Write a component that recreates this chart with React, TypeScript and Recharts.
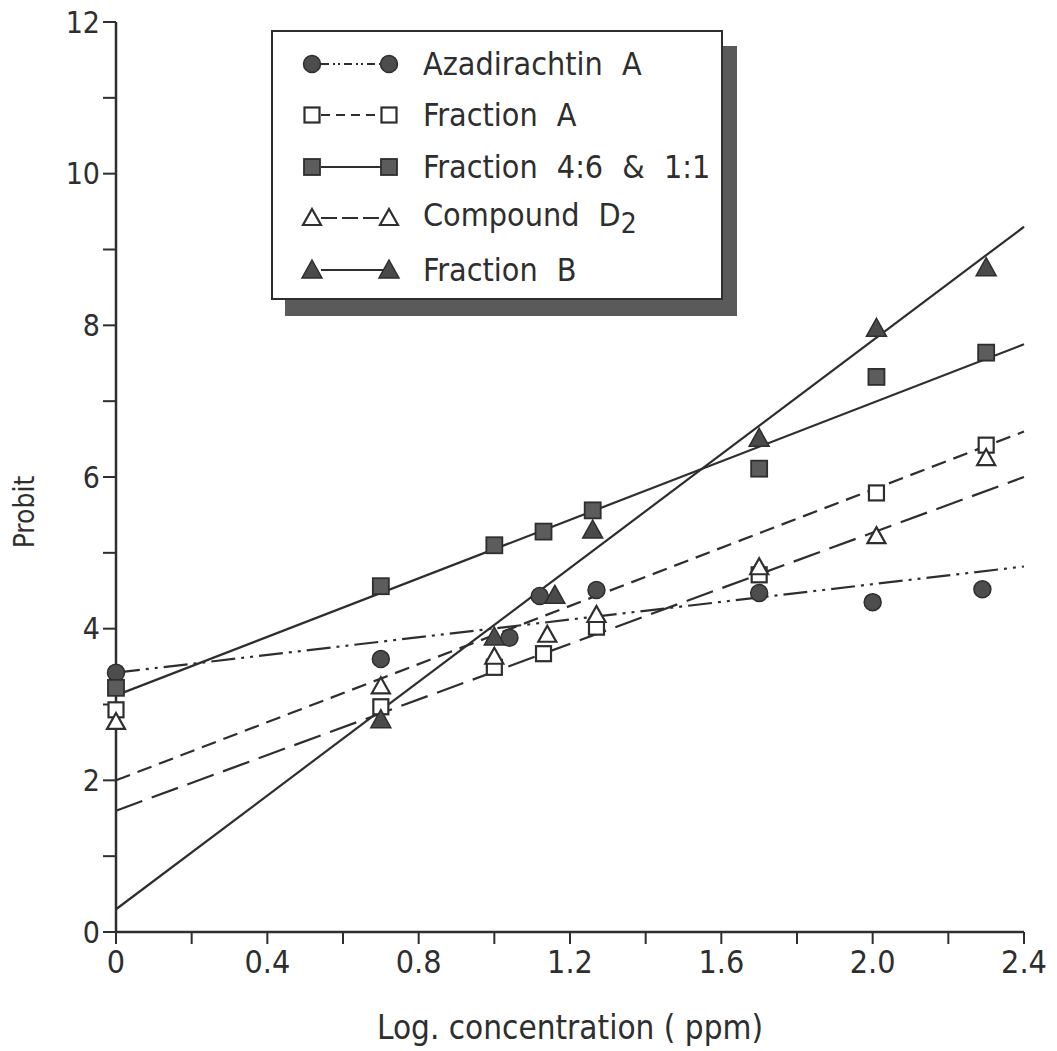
import React from "react";
import {
  ComposedChart,
  Line,
  Scatter,
  XAxis,
  YAxis,
  Legend,
} from "recharts";

// x = log concentration (ppm), y = probit
const azaX = [0, 0.7, 1.04, 1.12, 1.27, 1.7, 2.0, 2.29];
const azaY = [3.42, 3.6, 3.88, 4.43, 4.51, 4.47, 4.35, 4.52];

const fracAX = [0, 0.7, 1.0, 1.13, 1.27, 1.7, 2.01, 2.3];
const fracAY = [2.93, 2.97, 3.49, 3.67, 4.02, 4.71, 5.79, 6.42];

const frac46X = [0, 0.7, 1.0, 1.13, 1.26, 1.7, 2.01, 2.3];
const frac46Y = [3.22, 4.56, 5.1, 5.28, 5.56, 6.11, 7.32, 7.64];

const compD2X = [0, 0.7, 1.0, 1.14, 1.27, 1.7, 2.01, 2.3];
const compD2Y = [2.77, 3.24, 3.63, 3.92, 4.18, 4.81, 5.22, 6.25];

const fracBX = [0.7, 1.0, 1.16, 1.26, 1.7, 2.01, 2.3];
const fracBY = [2.8, 3.89, 4.44, 5.3, 6.51, 7.96, 8.76];

// fitted regression lines, end points at x = 0 and x = 2.4
const fitX = [0, 2.4];
const azaFit = [3.42, 4.82];
const fracAFit = [2.0, 6.6];
const frac46Fit = [3.12, 7.75];
const compD2Fit = [1.6, 6.0];
const fracBFit = [0.3, 9.3];

const xTicks = [0, 0.2, 0.4, 0.6, 0.8, 1.0, 1.2, 1.4, 1.6, 1.8, 2.0, 2.2, 2.4];
const xLabels: Record<string, string> = {
  "0": "0",
  "0.4": "0.4",
  "0.8": "0.8",
  "1.2": "1.2",
  "1.6": "1.6",
  "2": "2.0",
  "2.4": "2.4",
};
const yTicks = [0, 1, 2, 3, 4, 5, 6, 7, 8, 9, 10, 11, 12];

const INK = "#2e2e2e";
const FONT = "'DejaVu Sans Condensed', 'Liberation Sans Narrow', 'Liberation Sans', sans-serif";

const toPts = (xs: number[], ys: number[]) => xs.map((x, i) => ({ x, y: ys[i] }));

type MarkerKind = "circle" | "openSquare" | "square" | "openTriangle" | "triangle";

function Marker({ kind, cx, cy }: { kind: MarkerKind; cx: number; cy: number }) {
  switch (kind) {
    case "circle":
      return <circle cx={cx} cy={cy} r={8.5} fill="#4d4d4d" stroke={INK} strokeWidth={1.5} />;
    case "openSquare":
      return (
        <rect x={cx - 7.5} y={cy - 7.5} width={15} height={15} fill="#fff" stroke={INK} strokeWidth={2.2} />
      );
    case "square":
      return (
        <rect x={cx - 8} y={cy - 8} width={16} height={16} fill="#5c5c5c" stroke={INK} strokeWidth={1.8} />
      );
    case "openTriangle":
      return (
        <polygon
          points={`${cx},${cy - 9} ${cx + 9},${cy + 7} ${cx - 9},${cy + 7}`}
          fill="#fff"
          stroke={INK}
          strokeWidth={2.2}
          strokeLinejoin="miter"
        />
      );
    case "triangle":
      return (
        <polygon
          points={`${cx},${cy - 10} ${cx + 10},${cy + 8} ${cx - 10},${cy + 8}`}
          fill="#4a4a4a"
          stroke={INK}
          strokeWidth={1.5}
        />
      );
  }
}

const series = [
  { name: "Azadirachtin A", xs: azaX, ys: azaY, fit: azaFit, marker: "circle" as MarkerKind, dash: "24 6 3 6 3 6" },
  { name: "Fraction A", xs: fracAX, ys: fracAY, fit: fracAFit, marker: "openSquare" as MarkerKind, dash: "15 8" },
  { name: "Fraction 4:6 & 1:1", xs: frac46X, ys: frac46Y, fit: frac46Fit, marker: "square" as MarkerKind, dash: undefined },
  { name: "Compound D", sub: "2", xs: compD2X, ys: compD2Y, fit: compD2Fit, marker: "openTriangle" as MarkerKind, dash: "28 10" },
  { name: "Fraction B", xs: fracBX, ys: fracBY, fit: fracBFit, marker: "triangle" as MarkerKind, dash: undefined },
];

const legendDash: Record<string, string | undefined> = {
  "Azadirachtin A": "8 4 2 3 2 4",
  "Fraction A": "9 6",
  "Compound D": "16 5",
};

function LegendBox() {
  return (
    <div
      style={{
        width: 452,
        height: 270,
        border: `2.5px solid ${INK}`,
        background: "#fff",
        boxShadow: "14px 16px 0 #5a5a5a",
        boxSizing: "border-box",
        paddingTop: 6,
        fontFamily: FONT,
      }}
    >
      {series.map((s) => (
        <div key={s.name} style={{ display: "flex", alignItems: "center", height: 51.5 }}>
          <svg width={150} height={40} style={{ flex: "none" }}>
            <line
              x1={48}
              x2={110}
              y1={20}
              y2={20}
              stroke={INK}
              strokeWidth={2}
              strokeDasharray={legendDash[s.name]}
            />
            <Marker kind={s.marker} cx={39} cy={20} />
            <Marker kind={s.marker} cx={116} cy={20} />
          </svg>
          <span style={{ fontSize: 32, color: INK, wordSpacing: 10, whiteSpace: "nowrap" }}>
            {s.name}
            {s.sub ? <sub style={{ fontSize: 28 }}>{s.sub}</sub> : null}
          </span>
        </div>
      ))}
    </div>
  );
}

function ProbitLabel() {
  return (
    <text
      x={34}
      y={512}
      transform="rotate(-90, 34, 512)"
      textAnchor="middle"
      fontSize={28}
      fill={INK}
      fontFamily={FONT}
    >
      Probit
    </text>
  );
}

export default function App() {
  return (
    <div style={{ position: "absolute", left: 0, top: 0, width: 1057, height: 1051, background: "#fff" }}>
      <ComposedChart width={1057} height={1051} margin={{ top: 22, right: 33, bottom: 0, left: 0 }}>
        <XAxis
          dataKey="x"
          type="number"
          domain={[0, 2.4]}
          ticks={xTicks}
          interval={0}
          tickFormatter={(v: number) => xLabels[String(Math.round(v * 10) / 10)] ?? ""}
          tick={{ fontSize: 32, fill: INK, fontFamily: FONT }}
          tickSize={12}
          tickMargin={6}
          axisLine={{ stroke: INK, strokeWidth: 2.5 }}
          tickLine={{ stroke: INK, strokeWidth: 2 }}
          height={119}
          label={{
            value: "Log. concentration ( ppm)",
            position: "insideBottom",
            offset: 12,
            style: { fontSize: 33, fill: INK, fontFamily: FONT },
          }}
        />
        <YAxis
          dataKey="y"
          type="number"
          domain={[0, 12]}
          ticks={yTicks}
          interval={0}
          tickFormatter={(v: number) => (v % 2 === 0 ? String(v) : "")}
          tick={{ fontSize: 30, fill: INK, fontFamily: FONT }}
          tickSize={13}
          tickMargin={3}
          axisLine={{ stroke: INK, strokeWidth: 2.5 }}
          tickLine={{ stroke: INK, strokeWidth: 2 }}
          width={116}
          label={{ content: () => <ProbitLabel /> }}
        />
        {series.map((s) => (
          <Line
            key={`fit-${s.name}`}
            data={toPts(fitX, s.fit)}
            dataKey="y"
            type="linear"
            stroke={INK}
            strokeWidth={2.2}
            strokeDasharray={s.dash}
            dot={false}
            activeDot={false}
            legendType="none"
            isAnimationActive={false}
          />
        ))}
        {series.map((s) => (
          <Scatter
            key={`pts-${s.name}`}
            name={s.name}
            data={toPts(s.xs, s.ys)}
            dataKey="y"
            shape={(p: any) => <Marker kind={s.marker} cx={p.cx} cy={p.cy} />}
            isAnimationActive={false}
          />
        ))}
        <Legend
          layout="horizontal"
          verticalAlign="middle"
          align="center"
          content={() => <LegendBox />}
          wrapperStyle={{ left: 271, top: 30, width: 452, height: 270 }}
        />
      </ComposedChart>
    </div>
  );
}
